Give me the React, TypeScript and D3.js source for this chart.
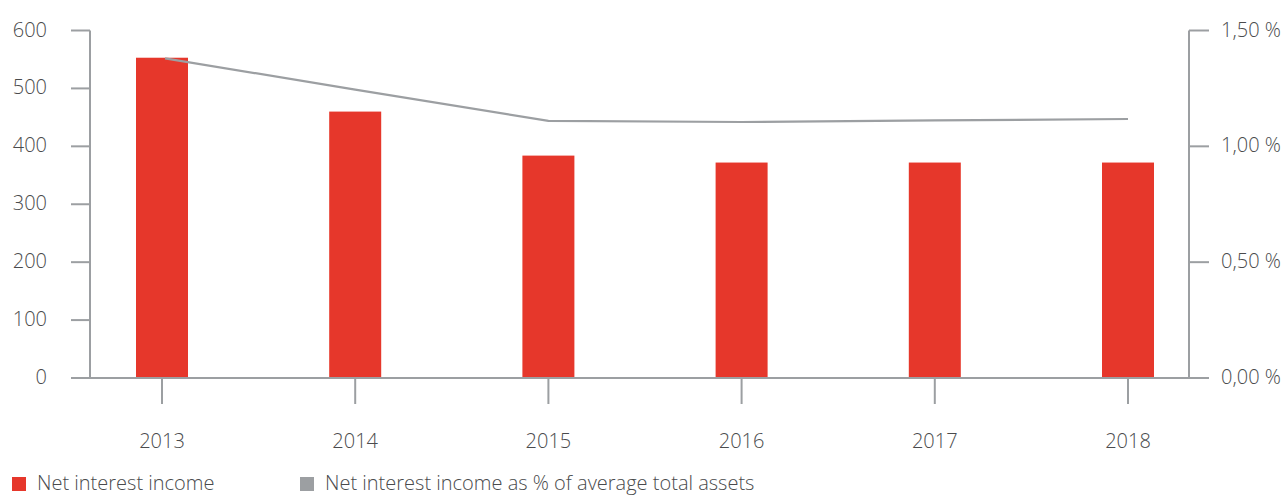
import React from "react";
import * as d3 from "d3";

const years = ["2013", "2014", "2015", "2016", "2017", "2018"];
const netInterestIncome = [553, 460, 384, 372, 372, 372];
const pctOfAssets = [1.38, 1.245, 1.11, 1.105, 1.112, 1.118];
const leftTicks = [0, 100, 200, 300, 400, 500, 600];
const rightTicks = [0, 0.5, 1.0, 1.5];
const legendLabels = ["Net interest income", "Net interest income as % of average total assets"];

const W = 1284;
const H = 496;
const RED = "#E6372B";
const AXIS = "#9C9FA2";
const TEXT = "#4A4B4D";
const FONT = "'Open Sans', 'Noto Sans', sans-serif";
const FS = 20;

export default function App() {
  const x0 = 90;
  const x1 = 1189;
  const yTop = 30.5;
  const yBot = 378;
  const x = d3.scalePoint<string>().domain(years).range([162, 1128]);
  const yL = d3.scaleLinear().domain([0, 600]).range([yBot, yTop]);
  const yR = d3.scaleLinear().domain([0, 1.5]).range([yBot, yTop]);
  const barW = 52;
  const line = d3
    .line<number>()
    .x((_, i) => (x(years[i]) as number) + (i === 0 ? 3 : 0))
    .y((d) => yR(d));
  const fmtR = (v: number) => v.toFixed(2).replace(".", ",") + " %";

  return (
    <div style={{ position: "absolute", left: 0, top: 0 }}>
      <svg width={W} height={H} style={{ display: "block" }} fontFamily={FONT}>
        <rect width={W} height={H} fill="#fff" />
        {years.map((yr, i) => (
          <rect
            key={yr}
            x={(x(yr) as number) - barW / 2}
            y={yL(netInterestIncome[i])}
            width={barW}
            height={yBot - yL(netInterestIncome[i])}
            fill={RED}
          />
        ))}
        <path d={line(pctOfAssets) || ""} fill="none" stroke={AXIS} strokeWidth={2.2} />
        {/* left axis */}
        <line x1={x0} x2={x0} y1={yTop} y2={yBot} stroke={AXIS} strokeWidth={2} />
        {leftTicks.map((t) => (
          <g key={t}>
            <line x1={71} x2={x0} y1={yL(t)} y2={yL(t)} stroke={AXIS} strokeWidth={2} />
            <text x={47} y={yL(t)} dy="0.3em" textAnchor="end" fontSize={FS} fontWeight={300} fill={TEXT}>
              {t}
            </text>
          </g>
        ))}
        {/* right axis */}
        <line x1={x1} x2={x1} y1={yTop} y2={yBot} stroke={AXIS} strokeWidth={2} />
        {rightTicks.map((t) => (
          <g key={t}>
            <line x1={x1} x2={1209} y1={yR(t)} y2={yR(t)} stroke={AXIS} strokeWidth={2} />
            <text x={1221} y={yR(t)} dy="0.3em" textAnchor="start" fontSize={FS} fontWeight={300} fill={TEXT}>
              {fmtR(t)}
            </text>
          </g>
        ))}
        {/* x axis */}
        <line x1={x0} x2={x1} y1={yBot} y2={yBot} stroke={AXIS} strokeWidth={2} />
        {years.map((yr) => (
          <g key={yr}>
            <line x1={x(yr)} x2={x(yr)} y1={yBot} y2={404} stroke={AXIS} strokeWidth={2} />
            <text x={x(yr)} y={448} textAnchor="middle" fontSize={FS} fontWeight={300} fill={TEXT}>
              {yr}
            </text>
          </g>
        ))}
        {/* legend */}
        <rect x={12} y={477} width={14} height={14} fill={RED} />
        <text x={37} y={490} fontSize={FS} fontWeight={300} fill={TEXT}>
          {legendLabels[0]}
        </text>
        <rect x={300} y={477} width={14} height={14} fill={AXIS} />
        <text x={325} y={490} fontSize={FS} fontWeight={300} fill={TEXT}>
          {legendLabels[1]}
        </text>
      </svg>
    </div>
  );
}
